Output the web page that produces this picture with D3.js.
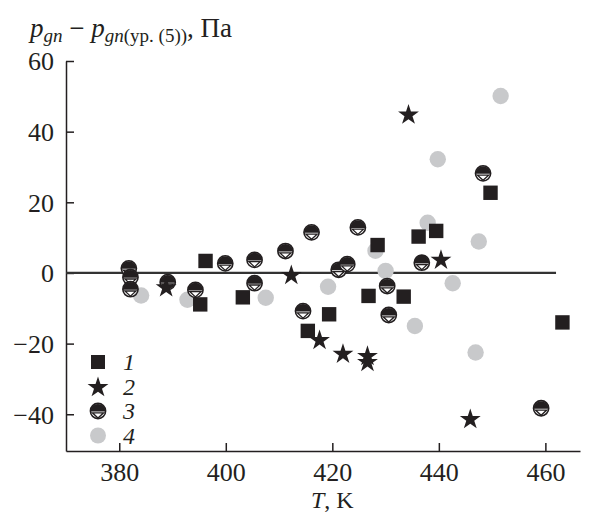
<!DOCTYPE html>
<html>
<head>
<meta charset="utf-8">
<script src="https://cdn.jsdelivr.net/npm/d3@7"></script>
<style>
  body { margin: 0; background: #fff; }
  text { font-family: "Liberation Serif"; }
</style>
</head>
<body>
<div id="graph"></div>
<script>
// series 1 - squares
var s1T = [395.2, 396.2, 403.2, 415.4, 419.4, 426.8, 428.5, 433.4, 436.2, 439.5, 449.7, 463.2];
var s1V = [-8.9, 3.4, -6.9, -16.4, -11.7, -6.5, 7.9, -6.7, 10.3, 11.9, 22.7, -14];
// series 2 - stars
var s2T = [388.8, 412.3, 417.6, 422.0, 426.6, 426.6, 434.3, 440.4, 445.9];
var s2V = [-3.9, -0.4, -18.8, -22.7, -23.3, -25.0, 45, 3.9, -41.2];
// series 3 - half filled circles
var s3T = [381.8, 382.1, 382.1, 389.1, 394.3, 399.9, 405.4, 405.4, 411.2, 414.5, 416.1, 421.2, 422.8, 424.8, 430.3, 430.6, 436.8, 448.3, 459.2];
var s3V = [1.3, -1.2, -4.6, -2.6, -4.8, 2.7, 3.7, -2.9, 6.2, -10.8, 11.5, 0.9, 2.5, 12.9, -3.7, -11.9, 2.9, 28.2, -38.3];
// series 4 - gray circles
var s4T = [384.1, 392.8, 407.5, 419.2, 428.1, 430.0, 435.5, 437.9, 439.8, 442.6, 446.9, 447.5, 451.6];
var s4V = [-6.4, -7.6, -7.0, -3.9, 6.3, 0.6, -15.0, 14.2, 32.2, -2.9, -22.5, 8.9, 50.1];

var xTicks = [380, 400, 420, 440, 460];
var yTicks = [-40, -20, 0, 20, 40, 60];
var legendLabels = ["1", "2", "3", "4"];

var W = 590, H = 514;
var ink = "#231f20";
var grey = "#c8c9cb";
var serif = "Liberation Serif";

var x = d3.scaleLinear().domain([370, 466.5]).range([66, 580]);
var y = d3.scaleLinear().domain([-50.4, 60]).range([451, 61]);

var svg = d3.select("#graph").append("svg")
    .attr("width", W)
    .attr("height", H)
    .attr("font-family", serif);

// axes (ticks pointing inside)
var xAxis = svg.append("g")
    .attr("transform", "translate(0," + y(-50.4) + ")")
    .call(d3.axisBottom(x).tickValues(xTicks).tickSizeInner(-8).tickSizeOuter(0).tickPadding(8));
var yAxis = svg.append("g")
    .attr("transform", "translate(" + x(370) + ",0)")
    .call(d3.axisLeft(y).tickValues(yTicks).tickSizeInner(-8).tickSizeOuter(0).tickPadding(12));

[xAxis, yAxis].forEach(a => {
    a.attr("font-family", serif).attr("font-size", 26);
    a.select(".domain").attr("stroke", ink).attr("stroke-width", 1.5);
    a.selectAll(".tick line").attr("stroke", ink).attr("stroke-width", 1.5);
    a.selectAll(".tick text").attr("fill", ink).attr("font-family", serif);
});
xAxis.selectAll(".tick text").attr("dy", "0.85em");
yAxis.selectAll(".tick text").attr("dy", "0.34em");

// zero line
svg.append("line")
    .attr("x1", x(370)).attr("x2", x(462))
    .attr("y1", y(0)).attr("y2", y(0))
    .attr("stroke", "#333").attr("stroke-width", 2.2);

// markers
function halfCircle(g) {
    g.append("circle").attr("r", 7.6).attr("fill", "#fff").attr("stroke", ink).attr("stroke-width", 1.6);
    g.append("path").attr("d", "M-7.6,0.5 A7.6,7.6 0 0 1 7.6,0.5 Z").attr("fill", ink);
    g.append("path").attr("d", "M-5.6,1.8 L5.6,1.8 L0,7 Z").attr("fill", "#fff").attr("stroke", ink).attr("stroke-width", 1.3);
}
var star = d3.symbol().type(d3.symbolStar).size(135);

var gGrey = svg.append("g");
s4T.forEach((t, i) => {
    gGrey.append("circle").attr("cx", x(t)).attr("cy", y(s4V[i])).attr("r", 8.2).attr("fill", grey);
});
var gHalf = svg.append("g");
s3T.forEach((t, i) => {
    halfCircle(gHalf.append("g").attr("transform", "translate(" + x(t) + "," + y(s3V[i]) + ")"));
});
var gSq = svg.append("g");
s1T.forEach((t, i) => {
    gSq.append("rect").attr("x", x(t) - 7.2).attr("y", y(s1V[i]) - 7.2)
        .attr("width", 14.4).attr("height", 14.4).attr("fill", ink);
});
var gStar = svg.append("g");
s2T.forEach((t, i) => {
    gStar.append("path").attr("d", star).attr("fill", ink)
        .attr("transform", "translate(" + x(t) + "," + (y(s2V[i]) + 1) + ")");
});

// legend
var leg = svg.append("g").attr("transform", "translate(98,362)");
var rowH = 24.5;
leg.append("rect").attr("x", -7).attr("y", -7).attr("width", 14).attr("height", 14).attr("fill", ink);
leg.append("path").attr("d", star).attr("fill", ink).attr("transform", "translate(0," + (rowH + 1) + ")");
halfCircle(leg.append("g").attr("transform", "translate(0," + (rowH * 2) + ")"));
leg.append("circle").attr("cy", rowH * 3).attr("r", 8).attr("fill", grey);
legendLabels.forEach((l, i) => {
    leg.append("text").attr("x", 25).attr("y", i * rowH + 8)
        .attr("font-size", "24px").attr("font-style", "italic").attr("fill", ink)
        .attr("font-family", serif).text(l);
});

// y title
var title = svg.append("text").attr("x", 30).attr("y", 37).attr("font-size", "27px").attr("fill", ink)
    .attr("font-family", serif);
title.append("tspan").attr("font-style", "italic").text("p");
title.append("tspan").attr("font-style", "italic").attr("font-size", "19px").attr("dy", 5).text("gn");
title.append("tspan").attr("dy", -5).text(" \u2212 ");
title.append("tspan").attr("font-style", "italic").text("p");
title.append("tspan").attr("font-style", "italic").attr("font-size", "19px").attr("dy", 5).text("gn");
title.append("tspan").attr("font-size", "19px").text("(ур. (5))");
title.append("tspan").attr("dy", -5).text(", Па");

// x title
var xt = svg.append("text").attr("x", x(420)).attr("y", 508).attr("text-anchor", "middle")
    .attr("font-size", "24px").attr("fill", ink).attr("font-family", serif);
xt.append("tspan").attr("font-style", "italic").text("T");
xt.append("tspan").text(", K");
</script>
</body>
</html>
